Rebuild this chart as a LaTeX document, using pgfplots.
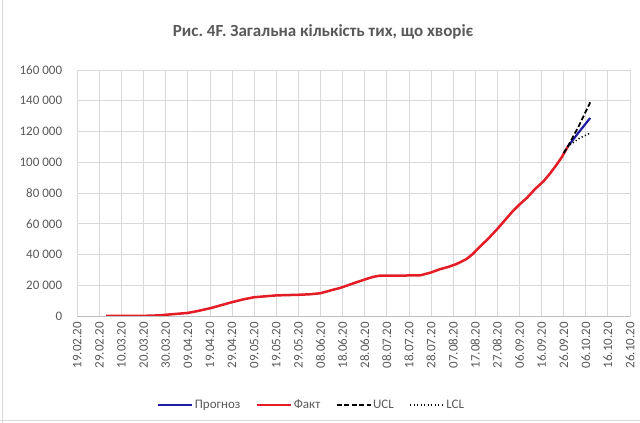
\documentclass[border=0pt]{standalone}
\usepackage{fontspec}
\setmainfont{Carlito}
\usepackage{pgfplots}
\pgfplotsset{compat=1.18}
\definecolor{txtgray}{HTML}{595959}
\definecolor{gridgray}{HTML}{D9D9D9}
\definecolor{axisgray}{HTML}{BFBFBF}
\definecolor{fcblue}{RGB}{30,30,165}
\definecolor{factred}{RGB}{228,28,38}
\frenchspacing

\begin{document}
\begin{tikzpicture}
\useasboundingbox (0,0) rectangle (640pt,423pt);
\draw[gridgray,line width=0.8pt] (2.5pt,0) -- (2.5pt,423pt);
\draw[gridgray,line width=0.8pt] (0,3pt) -- (640pt,3pt);
\begin{axis}[
  scale only axis,
  width=552.7pt,height=246pt,
  at={(77.3pt,107pt)},anchor=south west,
  xmin=0,xmax=250,ymin=0,ymax=160000,
  scaled y ticks=false,
  xtick={0,10,...,250},
  xticklabels={19.02.20,29.02.20,10.03.20,20.03.20,30.03.20,09.04.20,19.04.20,29.04.20,09.05.20,19.05.20,29.05.20,08.06.20,18.06.20,28.06.20,08.07.20,18.07.20,28.07.20,07.08.20,17.08.20,27.08.20,06.09.20,16.09.20,26.09.20,06.10.20,16.10.20,26.10.20},
  ytick={0,20000,...,160000},
  yticklabels={0,20 000,40 000,60 000,80 000,100 000,120 000,140 000,160 000},
  major tick length=0pt,
  grid=major,
  grid style={gridgray,line width=0.8pt},
  axis x line*=bottom,
  axis y line*=left,
  x axis line style={axisgray,line width=0.8pt,-},
  y axis line style={gridgray,line width=0.8pt,-},
  ticklabel style={font=\fontsize{13}{15}\selectfont,text=txtgray,inner sep=0pt},
  xticklabel style={rotate=90,anchor=east},
  xticklabel shift=6pt,
  yticklabel shift=15pt,
  title={Рис. 4F. Загальна кількість тих, що хворіє},
  title style={font=\fontsize{17}{20}\selectfont\bfseries,text=txtgray,at={(0.4446,1.13)},anchor=center},
  legend columns=4,
  legend style={at={(0.4235,-0.362)},anchor=center,draw=none,fill=none,
    font=\fontsize{13}{15}\selectfont,text=txtgray,
    /tikz/every even column/.append style={column sep=14pt},
    nodes={inner sep=1.5pt}},
  legend image code/.code={\draw[#1] (0pt,0pt) -- (34pt,0pt);},
]
\addplot[fcblue,line width=2.2pt] coordinates {
  (222,110500) (227,119800) (232,128800)
};
\addlegendentry{Прогноз}
\addplot[factred,line width=2.5pt,line join=round] coordinates {
  (13,0) (20,0) (30,100) (37,400) (40,800) (45,1400) (50,2000) (55,3400)
  (60,5000) (65,7000) (70,9000) (75,10800) (80,12200) (85,12800) (90,13400)
  (95,13600) (100,13800) (105,14100) (110,14800) (115,16800) (119,18300)
  (125,21300) (131,24200) (134,25500) (137,26300) (145,26300) (155,26400)
  (160,28300) (164,30400) (168,32000) (171.5,33800) (176,37000) (179,40500)
  (182,44900) (186,50500) (189.6,56000) (193,61600) (197,68200) (200,72500)
  (203.5,77000) (207,82500) (211,87800) (214,93000) (216.5,97800) (219,103000)
  (222,110500)
};
\addlegendentry{Факт}
\addplot[black,line width=1.8pt,dash pattern=on 5pt off 2.5pt] coordinates {
  (220,106000) (222,110500) (227,124000) (232,139000)
};
\addlegendentry{UCL}
\addplot[black,line width=1.5pt,dash pattern=on 1.2pt off 2.3pt] coordinates {
  (220,106000) (222,110500) (227,115500) (232,119000)
};
\addlegendentry{LCL}
\end{axis}
\end{tikzpicture}
\end{document}
